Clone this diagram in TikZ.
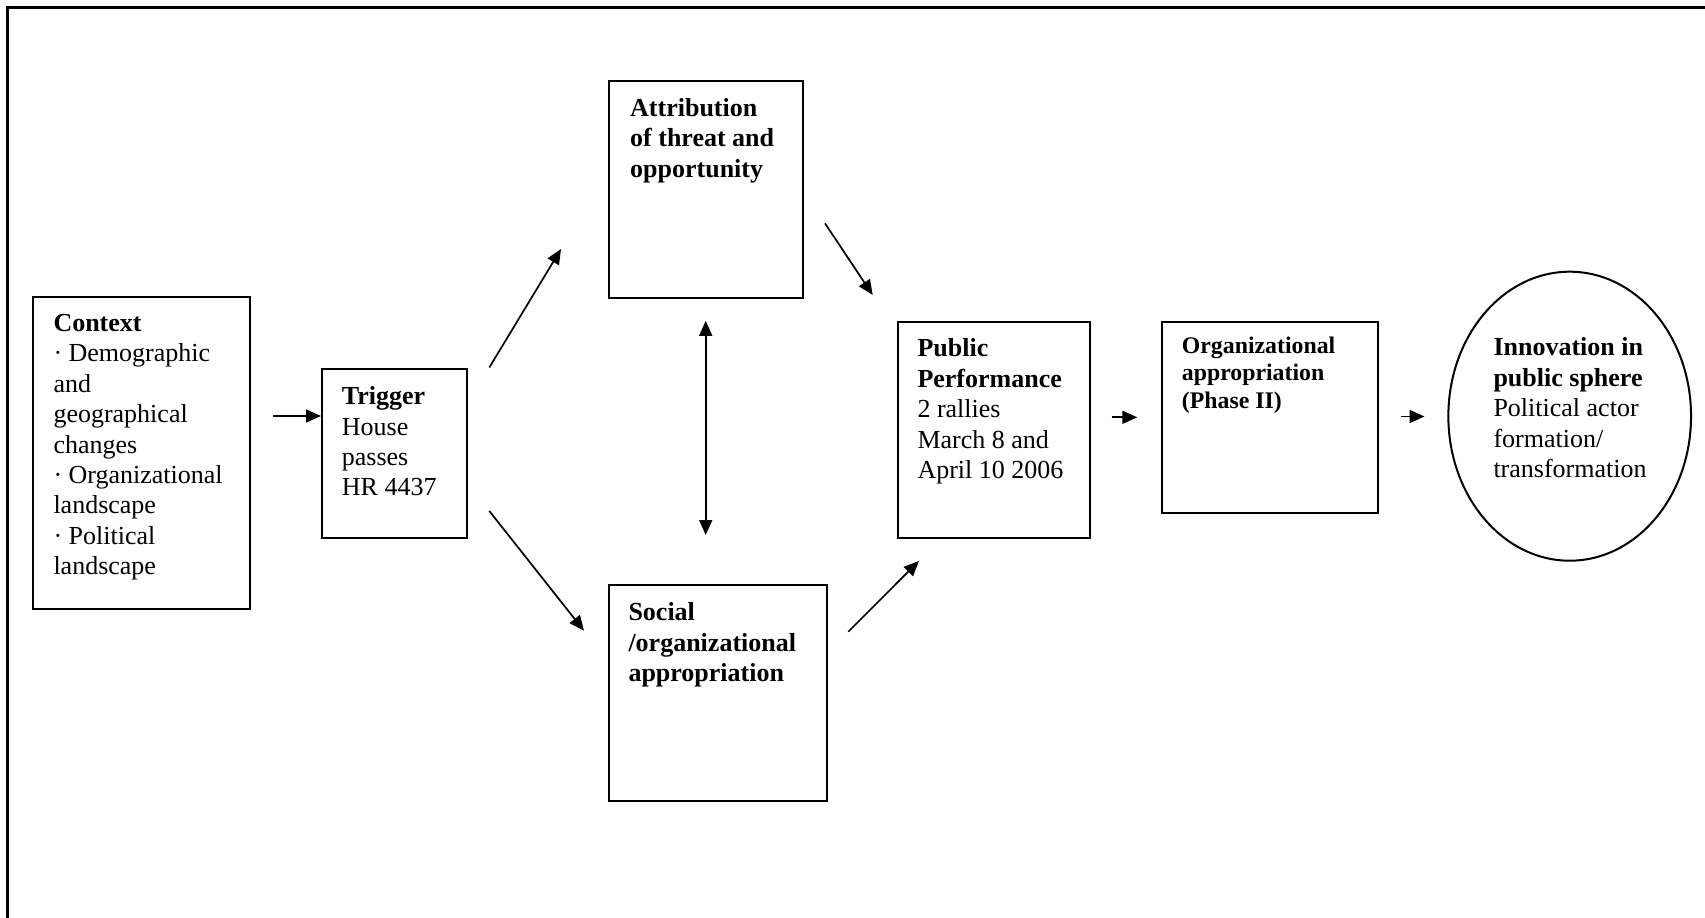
\documentclass[tikz,border=0pt]{standalone}
\usepackage{fontspec}
\setmainfont{Liberation Serif}
\usetikzlibrary{arrows.meta,shapes.geometric}
\begin{document}
\begin{tikzpicture}[x=1pt,y=-1pt,
  box/.style={draw, line width=2pt, inner sep=0pt, anchor=north west},
  oval/.style={draw, ellipse, line width=2pt, inner sep=0pt},
  txt/.style={anchor=north west, inner sep=0pt, align=left, font=\fontsize{26}{30.4}\selectfont},
  stxt/.style={anchor=north west, inner sep=0pt, align=left, font=\fontsize{23.8}{27.7}\selectfont},
  arr/.style={line width=1.7pt, -{Triangle[length=15pt,width=13pt]}},
  darr/.style={line width=1.7pt, {Triangle[length=15pt,width=13pt]}-{Triangle[length=15pt,width=13pt]}},
  frame/.style={line width=2.7pt}
]
\useasboundingbox (0,0) rectangle (1705,918);
\coordinate (fb) at (7.8,918);
\coordinate (fc) at (7.8,7.5);
\coordinate (fr) at (1705,7.5);
\draw[frame] (fb) -- (fc) -- (fr);

% boxes
\node[box, minimum width=217pt, minimum height=312pt] (ctx) at (32.3,296) {};
\node[box, minimum width=144.7pt, minimum height=169pt] (trig) at (321,367.7) {};
\node[box, minimum width=193.4pt, minimum height=216.7pt] (attr) at (608.3,80) {};
\node[box, minimum width=217.4pt, minimum height=216pt] (soc) at (608.3,584) {};
\node[box, minimum width=192.6pt, minimum height=216.6pt] (pub) at (896.7,320.7) {};
\node[box, minimum width=216.3pt, minimum height=191.6pt] (org) at (1161,320.7) {};
\node[oval, minimum width=242.7pt, minimum height=289pt] (inn) at (1569.7,416.2) {};

% texts
\node[txt] (ctxt) at (53.3,314) {\textbf{Context}\\· Demographic\\and\\geographical\\changes\\· Organizational\\landscape\\· Political\\landscape};
\node[txt] (trigt) at (341.7,386.5) {\textbf{Trigger}\\House\\passes\\HR 4437};
\node[txt, font=\fontsize{26}{30.4}\selectfont\bfseries] (attrt) at (630,98.2) {Attribution\\of threat and\\opportunity};
\node[txt, font=\fontsize{26}{30.4}\selectfont\bfseries] (soct) at (628.3,602.5) {Social\\/organizational\\appropriation};
\node[txt] (pubt) at (917.3,338.7) {\textbf{Public}\\\textbf{Performance}\\2 rallies\\March 8 and\\April 10 2006};
\node[stxt, font=\fontsize{23.8}{27.7}\selectfont\bfseries] (orgt) at (1181.7,336.5) {Organizational\\appropriation\\(Phase II)};
\node[txt] (innt) at (1493.3,337.7) {\textbf{Innovation in}\\\textbf{public sphere}\\Political actor\\formation/\\transformation};

% connector end points
\coordinate (a1s) at (272.7,416);
\coordinate (a1e) at (321,416);
\coordinate (a2s) at (489.3,367.5);
\coordinate (a2e) at (561,249);
\coordinate (a3s) at (489.3,511);
\coordinate (a3e) at (584,630.7);
\coordinate (a4s) at (825,223.3);
\coordinate (a4e) at (872.7,295);
\coordinate (a5s) at (848.3,631.7);
\coordinate (a5e) at (918.9,561);
\coordinate (a6s) at (705.7,320.8);
\coordinate (a6e) at (705.7,535);
\coordinate (a7s) at (1111.7,417.3);
\coordinate (a7e) at (1137.3,417.3);
\coordinate (a8s) at (1400.6,416.5);
\coordinate (a8e) at (1424.5,416.5);

\draw[arr] (a1s) -- (a1e);
\draw[arr] (a2s) -- (a2e);
\draw[arr] (a3s) -- (a3e);
\draw[arr] (a4s) -- (a4e);
\draw[arr] (a5s) -- (a5e);
\draw[darr] (a6s) -- (a6e);
\draw[arr] (a7s) -- (a7e);
\draw[arr] (a8s) -- (a8e);
\end{tikzpicture}
\end{document}
